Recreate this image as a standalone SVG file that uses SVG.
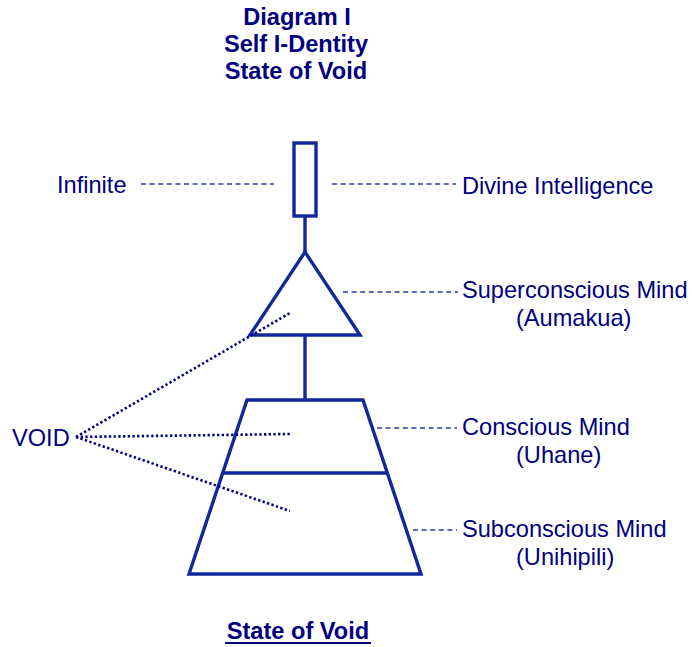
<svg xmlns="http://www.w3.org/2000/svg" width="692" height="647" viewBox="0 0 692 647">
<style>
text{font-family:"Liberation Sans",Arial,sans-serif;font-size:23.6px;fill:#000080}
.b{font-weight:bold}
.shape{fill:none;stroke:#10289a;stroke-width:3.4;stroke-linejoin:miter}
.stem{stroke:#10289a;stroke-width:3.4}
.dash{stroke:#2a3aa4;stroke-width:1.3;stroke-dasharray:5 3.6;fill:none}
.dot{stroke:#000080;stroke-width:2.6;stroke-dasharray:2.3 2.4;fill:none}
</style>
<rect width="692" height="647" fill="#fff"/>
<g id="title">
<text class="b" x="297" y="25" text-anchor="middle">Diagram I</text>
<text class="b" x="296" y="52" text-anchor="middle">Self I-Dentity</text>
<text class="b" x="296" y="79" text-anchor="middle">State of Void</text>
</g>
<g id="infinite-rect"><rect class="shape" x="294" y="143" width="22" height="73"/></g>
<g id="superconscious-triangle"><polygon class="shape" points="305,252 250,335 360,335"/></g>
<g id="mind-trapezoid">
<polygon class="shape" points="247,400 363,400 421,574 189,574"/>
<line class="stem" x1="223" y1="473" x2="388" y2="473"/>
</g>
<g id="labels">
<text x="57" y="193">Infinite</text>
<text x="462" y="194">Divine Intelligence</text>
<text x="462" y="298">Superconscious Mind</text>
<text x="516" y="326">(Aumakua)</text>
<text x="462" y="435">Conscious Mind</text>
<text x="516" y="463">(Uhane)</text>
<text x="462" y="537">Subconscious Mind</text>
<text x="516" y="565">(Unihipili)</text>
<text x="12" y="446">VOID</text>
</g>
<g id="footer">
<text class="b" x="298" y="639" text-anchor="middle">State of Void</text>
<line x1="225" y1="643" x2="371" y2="643" stroke="#000080" stroke-width="2"/>
</g>
<g id="connectors">
<line class="stem" x1="305" y1="216" x2="305" y2="252"/>
<line class="stem" x1="305" y1="335" x2="305" y2="400"/>
<line class="dash" x1="141" y1="184" x2="274" y2="184"/>
<line class="dash" x1="332" y1="184" x2="456" y2="184"/>
<line class="dash" x1="343" y1="292" x2="458" y2="292"/>
<line class="dash" x1="377" y1="428" x2="457" y2="428"/>
<line class="dash" x1="413" y1="530" x2="457" y2="530"/>
<line class="dot" x1="76" y1="437" x2="290" y2="313"/>
<line class="dot" x1="76" y1="437" x2="290" y2="434"/>
<line class="dot" x1="76" y1="437" x2="290" y2="511"/>
</g>
</svg>
